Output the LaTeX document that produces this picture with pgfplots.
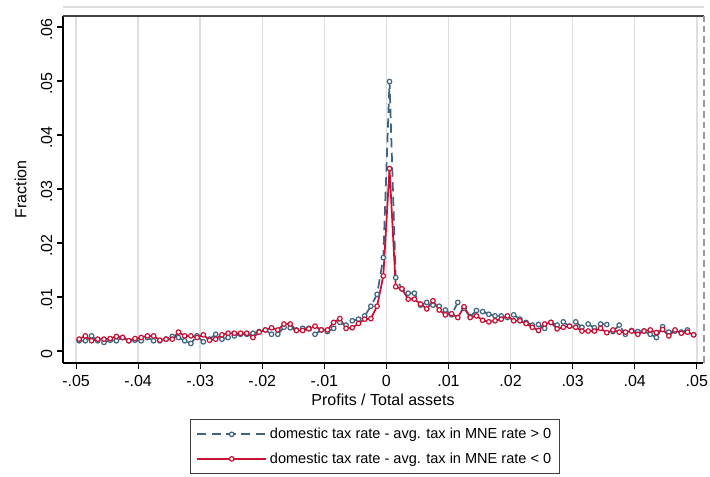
\documentclass[border=0pt]{standalone}
\usepackage{pgfplots}
\usepackage{pgfplotstable}
\pgfplotsset{compat=1.18}
\usepackage{fontspec}
\setmainfont{Liberation Sans}
\definecolor{sblue}{RGB}{62,100,130}
\definecolor{sred}{RGB}{200,16,52}
\definecolor{gridgray}{RGB}{222,222,222}
\pgfplotstableread{
x blue red
-0.0495 0.0019 0.0022
-0.0485 0.0019 0.0028
-0.0475 0.0028 0.0019
-0.0465 0.0019 0.0022
-0.0455 0.0016 0.0022
-0.0445 0.0020 0.0023
-0.0435 0.0019 0.0027
-0.0425 0.0025 0.0025
-0.0415 0.0019 0.0019
-0.0405 0.0020 0.0023
-0.0395 0.0019 0.0025
-0.0385 0.0025 0.0028
-0.0375 0.0019 0.0028
-0.0365 0.0019 0.0020
-0.0355 0.0022 0.0022
-0.0345 0.0027 0.0022
-0.0335 0.0025 0.0035
-0.0325 0.0019 0.0028
-0.0315 0.0014 0.0028
-0.0305 0.0028 0.0025
-0.0295 0.0017 0.0030
-0.0285 0.0022 0.0020
-0.0275 0.0031 0.0022
-0.0265 0.0022 0.0030
-0.0255 0.0025 0.0033
-0.0245 0.0028 0.0033
-0.0235 0.0031 0.0033
-0.0225 0.0031 0.0033
-0.0215 0.0033 0.0025
-0.0205 0.0036 0.0035
-0.0195 0.0039 0.0039
-0.0185 0.0031 0.0043
-0.0175 0.0031 0.0039
-0.0165 0.0044 0.0050
-0.0155 0.0043 0.0050
-0.0145 0.0039 0.0038
-0.0135 0.0042 0.0038
-0.0125 0.0042 0.0041
-0.0115 0.0031 0.0046
-0.0105 0.0039 0.0039
-0.0095 0.0036 0.0039
-0.0085 0.0042 0.0053
-0.0075 0.0053 0.0060
-0.0065 0.0048 0.0042
-0.0055 0.0056 0.0043
-0.0045 0.0059 0.0051
-0.0035 0.0065 0.0059
-0.0025 0.0083 0.0060
-0.0015 0.0105 0.0083
-0.0005 0.0173 0.0139
0.0005 0.0499 0.0338
0.0015 0.0136 0.0119
0.0025 0.0115 0.0115
0.0035 0.0107 0.0096
0.0045 0.0107 0.0096
0.0055 0.0085 0.0087
0.0065 0.0090 0.0078
0.0075 0.0085 0.0093
0.0085 0.0083 0.0076
0.0095 0.0076 0.0067
0.0105 0.0067 0.0069
0.0115 0.0090 0.0062
0.0125 0.0079 0.0082
0.0135 0.0064 0.0062
0.0145 0.0075 0.0065
0.0155 0.0073 0.0057
0.0165 0.0068 0.0054
0.0175 0.0065 0.0056
0.0185 0.0065 0.0059
0.0195 0.0062 0.0065
0.0205 0.0067 0.0056
0.0215 0.0059 0.0056
0.0225 0.0053 0.0051
0.0235 0.0048 0.0044
0.0245 0.0049 0.0038
0.0255 0.0042 0.0050
0.0265 0.0053 0.0053
0.0275 0.0048 0.0041
0.0285 0.0054 0.0044
0.0295 0.0046 0.0046
0.0305 0.0054 0.0044
0.0315 0.0044 0.0037
0.0325 0.0050 0.0037
0.0335 0.0043 0.0037
0.0345 0.0050 0.0042
0.0355 0.0049 0.0034
0.0365 0.0036 0.0039
0.0375 0.0048 0.0035
0.0385 0.0031 0.0035
0.0395 0.0038 0.0037
0.0405 0.0036 0.0031
0.0415 0.0037 0.0037
0.0425 0.0031 0.0039
0.0435 0.0025 0.0034
0.0445 0.0045 0.0040
0.0455 0.0035 0.0028
0.0465 0.0037 0.0039
0.0475 0.0035 0.0033
0.0485 0.0039 0.0035
0.0495 0.0030 0.0030
}\datatable
\begin{document}
\begin{tikzpicture}
\useasboundingbox (0,0) rectangle (532.5pt,357pt);
\draw[gridgray, line width=1.5pt] (47.25pt,351.75pt) -- (528pt,351.75pt);
\begin{axis}[
  at={(47.25pt,84.75pt)}, anchor=south west,
  width=480pt, height=260.25pt, scale only axis,
  xmin=-0.0521, xmax=0.051, ymin=-0.00222, ymax=0.06204,
  axis x line*=bottom, axis y line*=left,
  axis line style={black, line width=0.9pt, -},
  xtick={-0.05,-0.04,-0.03,-0.02,-0.01,0,0.01,0.02,0.03,0.04,0.05},
  xticklabels={-.05,-.04,-.03,-.02,-.01,0,.01,.02,.03,.04,.05},
  ytick={0,0.01,0.02,0.03,0.04,0.05,0.06},
  yticklabels={0,.01,.02,.03,.04,.05,.06},
  scaled ticks=false,
  tick align=outside, major tick length=4.5pt,
  tick style={black, line width=0.8pt},
  ticklabel style={font=\fontsize{12}{14}\selectfont},
  yticklabel style={rotate=90, anchor=south, xshift=-2pt},
  xticklabel style={yshift=-1pt},
  xmajorgrids, grid style={gridgray, line width=1.1pt},
  xlabel={Profits / Total assets},
  ylabel={Fraction},
  label style={font=\fontsize{12}{14}\selectfont},
  xlabel style={yshift=1.5pt},
  ylabel style={yshift=4pt},
  legend style={at={(0.4875,-0.1614)}, anchor=north, draw=black!75, line width=0.6pt,
    font=\fontsize{10.9}{12}\selectfont, row sep=5pt, inner xsep=4pt, inner ysep=4.5pt,
    legend cell align=left},
  legend image code/.code={\draw[mark repeat=2, mark phase=2, #1] plot coordinates {(0pt,0pt) (26pt,0pt) (52pt,0pt)};},
]
\addplot[sblue, line width=1.3pt, dash pattern=on 7pt off 4pt, mark=*, mark size=1.7pt,
  mark options={solid, fill=white, draw=sblue, line width=0.9pt}] table[x=x, y=blue] {\datatable};
\addlegendentry{domestic tax rate - avg. tax in MNE rate > 0}
\addplot[sred, line width=1.3pt, mark=*, mark size=1.7pt,
  mark options={solid, fill=white, draw=sred, line width=0.9pt}] table[x=x, y=red] {\datatable};
\addlegendentry{domestic tax rate - avg. tax in MNE rate < 0}
\end{axis}
\draw[black!75, line width=0.9pt] (47.25pt,345pt) -- (528pt,345pt);
\draw[black!40, line width=1.5pt, dash pattern=on 5pt off 3pt] (528pt,84.75pt) -- (528pt,345pt);
\end{tikzpicture}
\end{document}
